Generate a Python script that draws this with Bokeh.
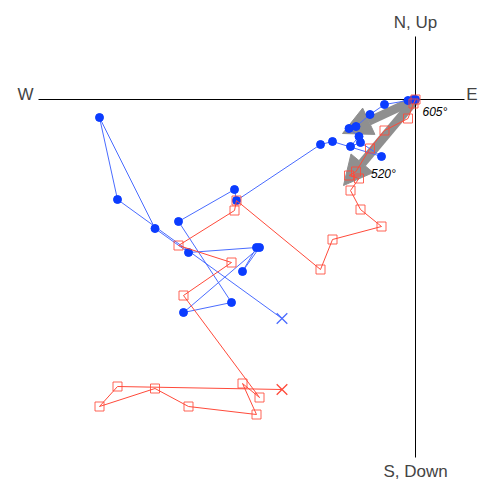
from bokeh.plotting import figure
from bokeh.models import Range1d, Arrow, NormalHead, Label, ColumnDataSource
from bokeh.embed import file_html
from bokeh.resources import INLINE

# Zijderveld diagram, demagnetisation steps in order (first = NRM, marked with X)
# Components in arbitrary units
east = [-13.35, -29.8, -31.6, -26.05, -22.7, -15.9, -17.3, -15.6, -23.2, -18.4,
        -23.7, -18.1, -17.9, -9.5, -8.3, -3.4, -5.5, -6.5, -5.65, -6.65,
        -5.95, -4.55, -3.1, -0.75, -0.2, 0.0]
north = [-21.9, -10.0, -1.8, -12.9, -15.3, -14.8, -17.2, -14.8, -21.3, -20.3,
         -12.2, -9.0, -10.1, -4.5, -4.2, -5.7, -4.3, -4.7, -3.7, -2.9,
         -2.7, -1.5, -0.5, -0.1, 0.0, 0.0]
up = [-29.0, -28.7, -30.7, -28.9, -30.7, -31.5, -28.4, -29.8, -19.6, -16.3,
      -14.6, -11.1, -10.1, -17.0, -14.0, -12.7, -11.0, -9.1, -7.9, -7.6,
      -7.2, -4.9, -3.1, -1.9, -0.4, 0.0]

# PCA component directions (end points of the fit arrows)
fit_h = (-7.3, -3.4)   # horizontal projection (E, N)
fit_v = (-7.2, -8.6)   # vertical projection (E, Up)
step_labels = ["520\u00b0", "605\u00b0"]
step_index = [20, 25]

BLUE = "#0b3cff"
BLUE_LINE = "#4a6cff"
RED = "#ff4a3a"
GRAY = "#8f8f8f"
FONT = "Liberation Sans"

p = figure(width=478, height=483, output_backend="svg", toolbar_location=None,
           x_range=Range1d(-41.5, 6.3), y_range=Range1d(-38.4, 9.9),
           x_axis_type=None, y_axis_type=None, min_border=0,
           outline_line_color=None, background_fill_color="white")
p.grid.visible = False

# axes through origin
p.segment(x0=[-37.7, 0], y0=[0, 6.3], x1=[4.9, 0], y1=[0, -35.8],
          line_color="black", line_width=1)

# fit arrows
for (fx, fy) in (fit_h, fit_v):
    p.add_layout(Arrow(x_start=0, y_start=0, x_end=fx, y_end=fy,
                       line_color=GRAY, line_width=9, level="underlay",
                       end=NormalHead(size=29, fill_color=GRAY, line_color=GRAY)))

src = ColumnDataSource(dict(e=east, n=north, u=up))
pts = ColumnDataSource(dict(e=east[1:], n=north[1:], u=up[1:]))

# horizontal projection
p.line("e", "n", source=src, line_color=BLUE_LINE, line_width=1)
p.scatter("e", "n", source=pts, marker="circle", size=8,
          fill_color=BLUE, line_color=BLUE)
p.scatter([east[0]], [north[0]], marker="x", size=15, line_color=BLUE_LINE,
          line_width=1.3)

# vertical projection
p.line("e", "u", source=src, line_color=RED, line_width=1)
p.scatter("e", "u", source=pts, marker="square", size=9,
          fill_color=None, line_color=RED, line_alpha=0.85, line_width=1)
p.scatter([east[0]], [up[0]], marker="x", size=15, line_color=RED,
          line_width=1.3)

label_offsets = [(15, -2), (7, -12)]
for lab, i, (dx, dy) in zip(step_labels, step_index, label_offsets):
    p.add_layout(Label(x=east[i], y=up[i], text=lab, x_offset=dx, y_offset=dy,
                       text_font=FONT, text_font_size="12px",
                       text_font_style="italic", text_baseline="middle",
                       text_color="black"))

# direction labels
p.add_layout(Label(x=0, y=7.7, text="N, Up", text_align="center",
                   text_baseline="middle", text_font=FONT, text_font_size="17px"))
p.add_layout(Label(x=0, y=-37.2, text="S, Down", text_align="center",
                   text_baseline="alphabetic", text_font=FONT, text_font_size="17px"))
p.add_layout(Label(x=-39.8, y=0.5, text="W", text_align="left",
                   text_baseline="middle", text_font=FONT, text_font_size="17px"))
p.add_layout(Label(x=6.2, y=0.5, text="E", text_align="right",
                   text_baseline="middle", text_font=FONT, text_font_size="17px"))

open("out.html", "w").write(file_html(p, INLINE))
